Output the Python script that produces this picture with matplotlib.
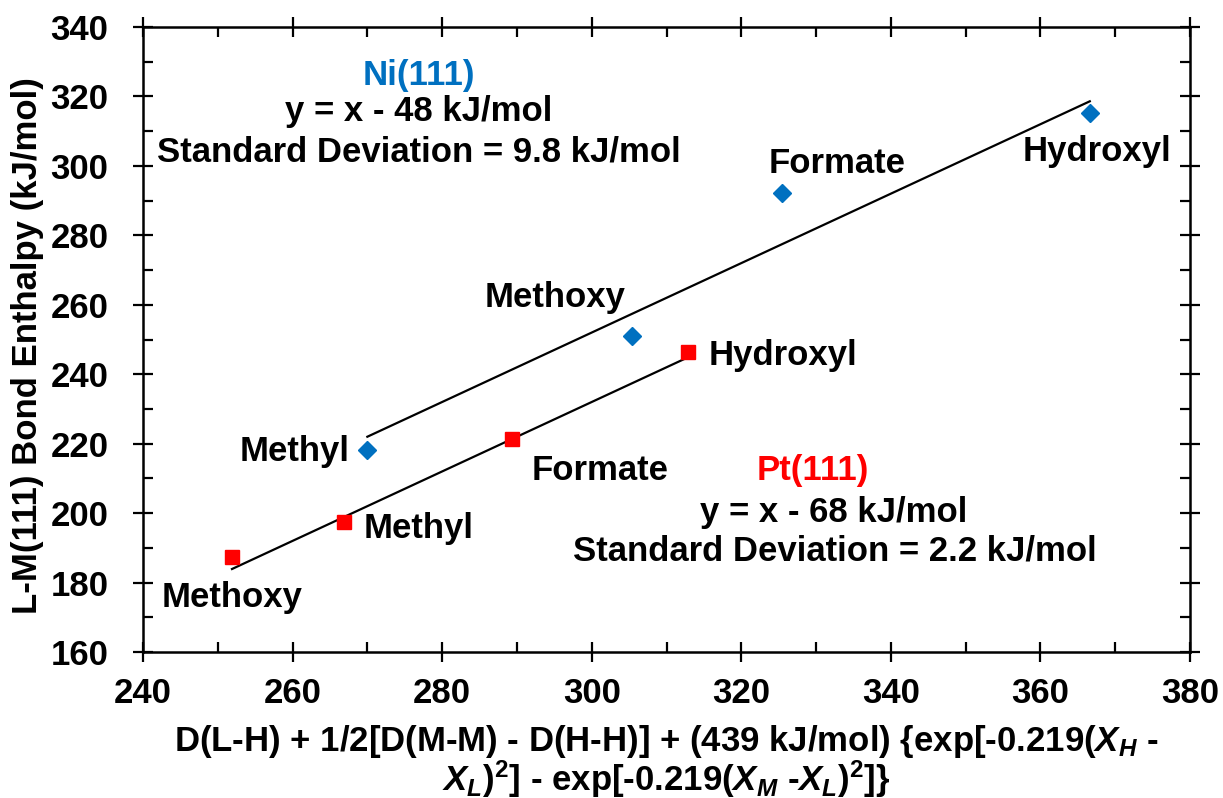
import matplotlib
matplotlib.use('Agg')
import matplotlib.pyplot as plt
from matplotlib.ticker import MultipleLocator

# данные
ni_labels = ['Methyl', 'Methoxy', 'Formate', 'Hydroxyl']
ni_x = [270.0, 305.4, 325.4, 366.6]
ni_y = [218.2, 250.9, 292.3, 315.2]
ni_offset = 48

pt_labels = ['Methoxy', 'Methyl', 'Formate', 'Hydroxyl']
pt_x = [251.9, 266.9, 289.3, 312.9]
pt_y = [187.4, 197.5, 221.4, 246.5]
pt_offset = 68

blue = '#0070C0'
red = '#FF0000'

plt.rcParams['font.family'] = ['Liberation Sans', 'DejaVu Sans']
plt.rcParams['font.weight'] = 'bold'
plt.rcParams['mathtext.fontset'] = 'custom'
plt.rcParams['mathtext.rm'] = 'Liberation Sans:bold'
plt.rcParams['mathtext.it'] = 'Liberation Sans:italic:bold'
plt.rcParams['mathtext.bf'] = 'Liberation Sans:bold'

fs = 25

fig = plt.figure(figsize=(12.23, 7.98), dpi=100)
ax = fig.add_axes([143 / 1223, 1 - 652 / 798, (1190 - 143) / 1223, (652 - 27) / 798])

# линии аппроксимации y = x - c
ax.plot([min(ni_x), max(ni_x)], [min(ni_x) - ni_offset, max(ni_x) - ni_offset],
        color='black', lw=1.6, zorder=2)
ax.plot([min(pt_x), max(pt_x)], [min(pt_x) - pt_offset, max(pt_x) - pt_offset],
        color='black', lw=1.6, zorder=2)

ax.plot(ni_x, ni_y, 'D', color=blue, ms=9.5, ls='none', zorder=3)
ax.plot(pt_x, pt_y, 's', color=red, ms=9.5, ls='none', zorder=3)

ax.set_xlim(240, 380)
ax.set_ylim(160, 340)
ax.xaxis.set_major_locator(MultipleLocator(20))
ax.xaxis.set_minor_locator(MultipleLocator(10))
ax.yaxis.set_major_locator(MultipleLocator(20))
ax.yaxis.set_minor_locator(MultipleLocator(10))

for s in ax.spines.values():
    s.set_linewidth(1.8)
ax.tick_params(which='major', direction='inout', length=14, width=1.6,
               top=True, right=True, labelsize=fs, pad=11)
ax.tick_params(which='minor', direction='in', length=7, width=1.6,
               top=True, right=True)
ax.tick_params(axis='y', which='major', pad=18)

ax.set_ylabel('L-M(111) Bond Enthalpy (kJ/mol)', fontsize=fs, fontweight='bold')
ax.yaxis.set_label_coords(-0.0946, 0.49)

# подписи точек
kw = dict(fontsize=fs, fontweight='bold', ha='center', va='center')
ni_text_pos = [(260.3, 217.6), (295.1, 262.2), (332.8, 300.8), (367.6, 304.0)]
pt_text_pos = [(251.9, 175.8), (276.9, 195.7), (301.1, 212.4), (325.6, 245.5)]
for lab, (tx, ty) in zip(ni_labels, ni_text_pos):
    ax.text(tx, ty, lab, **kw)
for lab, (tx, ty) in zip(pt_labels, pt_text_pos):
    ax.text(tx, ty, lab, **kw)

ax.text(276.9, 325.9, 'Ni(111)', color=blue, **kw)
ax.text(276.9, 315.8, 'y = x - %d kJ/mol' % ni_offset, **kw)
ax.text(276.9, 304.0, 'Standard Deviation = 9.8 kJ/mol', **kw)

ax.text(329.5, 212.4, 'Pt(111)', color=red, **kw)
ax.text(332.3, 200.3, 'y = x - %d kJ/mol' % pt_offset, **kw)
ax.text(332.5, 189.1, 'Standard Deviation = 2.2 kJ/mol', **kw)

# подпись оси x в две строки
cx = (143 + 1190) / 2 / 1223
fig.text(cx, 1 - 741 / 798,
         r'D(L-H) + 1/2[D(M-M) - D(H-H)] + (439 kJ/mol) {exp[-0.219($X_H$ -',
         fontsize=fs, fontweight='bold', ha='center', va='center')
fig.text(cx, 1 - 779 / 798,
         r'$X_L$)$^2$] - exp[-0.219($X_M$ -$X_L$)$^2$]}',
         fontsize=fs, fontweight='bold', ha='center', va='center')

fig.savefig('out.png', dpi=100)
